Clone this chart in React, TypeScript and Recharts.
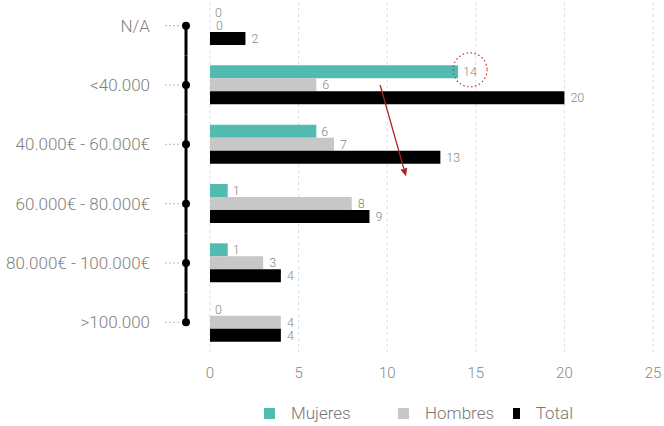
import { BarChart, Bar, XAxis, YAxis, CartesianGrid, Legend, LabelList, ReferenceLine } from 'recharts';

const RANGES = ['N/A', '<40.000', '40.000€ - 60.000€', '60.000€ - 80.000€', '80.000€ - 100.000€', '>100.000'];
const MUJERES = [0, 14, 6, 1, 1, 0];
const HOMBRES = [0, 6, 7, 8, 3, 4];
const TOTAL = [2, 20, 13, 9, 4, 4];
const X_TICKS = [0, 5, 10, 15, 20, 25];
const SERIES_NAMES = ['Mujeres', 'Hombres', 'Total'];

const data = RANGES.map((name, i) => ({
  name,
  mujeres: MUJERES[i],
  hombres: HOMBRES[i],
  total: TOTAL[i],
}));

const W = 664;
const H = 426;
const MARGIN = { top: -4, right: 11, bottom: 44, left: 0 };
const X_AXIS_H = 30;
const PLOT_H = H - MARGIN.top - MARGIN.bottom - X_AXIS_H;
const STEP = PLOT_H / RANGES.length;
const FONT = 'Roboto, "Open Sans", sans-serif';
const LABEL_STYLE = { fill: '#888', fontSize: 12.5, fontWeight: 300 };

function RangeTick({ y, payload, index, visibleTicksCount }: any) {
  const top = index === 0 ? y : y - STEP / 2;
  const bottom = index === visibleTicksCount - 1 ? y : y + STEP / 2;
  return (
    <g>
      <text x={150} y={y} dy="0.35em" textAnchor="end" fill="#808080" fontSize={17} fontWeight={300}>
        {payload.value}
      </text>
      <line x1={165} x2={179} y1={y} y2={y} stroke="#bbb" strokeDasharray="2 2" />
      <line x1={186} x2={186} y1={top} y2={bottom} stroke="#000" strokeWidth={3} />
      <circle cx={186} cy={y} r={4} fill="#000" />
    </g>
  );
}

function MujeresLabel({ x, y, width, height, value }: any) {
  const lx = x + width + 5;
  const cy = y + height / 2;
  const isMax = value === Math.max(...MUJERES);
  return (
    <g>
      <text x={lx} y={cy} dy="0.35em" {...LABEL_STYLE}>{value}</text>
      {isMax && (
        <circle cx={lx + 7} cy={cy - 2} r={17} fill="none" stroke="#c0392b" strokeWidth={1.2} strokeDasharray="1.5 2.5" />
      )}
    </g>
  );
}

function ArrowShape({ x1, y1, x2, y2 }: any) {
  const t = 0.77;
  const ex = x1 + (x2 - x1) * t;
  const ey = y1 + (y2 - y1) * t;
  const a = Math.atan2(ey - y1, ex - x1);
  const len = 8;
  const w = 3.5;
  const bx = ex - len * Math.cos(a);
  const by = ey - len * Math.sin(a);
  const px = -Math.sin(a) * w;
  const py = Math.cos(a) * w;
  return (
    <g>
      <line x1={x1} y1={y1} x2={bx} y2={by} stroke="#b22222" strokeWidth={1.3} />
      <polygon points={`${ex},${ey} ${bx + px},${by + py} ${bx - px},${by - py}`} fill="#b22222" />
    </g>
  );
}

const ITEM_WIDTHS = [134, 115, 60];

function LegendContent({ payload }: any) {
  const items = [...(payload || [])].sort(
    (a: any, b: any) => SERIES_NAMES.indexOf(a.value) - SERIES_NAMES.indexOf(b.value),
  );
  return (
    <div style={{ display: 'flex', alignItems: 'center', fontFamily: FONT, fontSize: 17, fontWeight: 300, color: '#777' }}>
      {items.map((p: any, i: number) => (
        <div key={p.value} style={{ display: 'flex', alignItems: 'center', width: ITEM_WIDTHS[i] }}>
          <span style={{ width: 11, height: 11, background: p.color, display: 'inline-block', marginRight: 16 }} />
          <span>{p.value}</span>
        </div>
      ))}
    </div>
  );
}

const tinyBar = () => 0.01;

export default function App() {
  return (
    <div style={{ position: 'absolute', left: 0, top: 0, width: W, height: H, fontFamily: FONT, background: '#fff' }}>
      <BarChart width={W} height={H} data={data} layout="vertical" margin={MARGIN} barSize={13} barGap={0}>
        <CartesianGrid horizontal={false} stroke="#ddd" strokeDasharray="3 3" />
        <XAxis
          type="number"
          domain={[0, 25]}
          ticks={X_TICKS}
          axisLine={false}
          tickLine={false}
          tickMargin={9}
          height={X_AXIS_H}
          tick={{ fill: '#888', fontSize: 15, fontWeight: 300 }}
        />
        <YAxis
          type="category"
          dataKey="name"
          width={210}
          axisLine={false}
          tickLine={false}
          tick={<RangeTick />}
          interval={0}
        />
        <Legend
          verticalAlign="middle"
          align="center"
          content={<LegendContent />}
          wrapperStyle={{ top: 403, left: 264, width: 'auto', height: 22 }}
        />
        <Bar dataKey="mujeres" name="Mujeres" fill="#52bbaf" minPointSize={tinyBar} isAnimationActive={false}>
          <LabelList dataKey="mujeres" content={<MujeresLabel />} />
        </Bar>
        <Bar dataKey="hombres" name="Hombres" fill="#c7c7c7" minPointSize={tinyBar} isAnimationActive={false}>
          <LabelList dataKey="hombres" position="right" offset={6} {...LABEL_STYLE} />
        </Bar>
        <Bar dataKey="total" name="Total" fill="#000" isAnimationActive={false}>
          <LabelList dataKey="total" position="right" offset={6} {...LABEL_STYLE} />
        </Bar>
        <ReferenceLine
          segment={[{ x: 9.6, y: '<40.000' }, { x: 11.5, y: '60.000€ - 80.000€' }]}
          shape={<ArrowShape />}
        />
      </BarChart>
    </div>
  );
}
